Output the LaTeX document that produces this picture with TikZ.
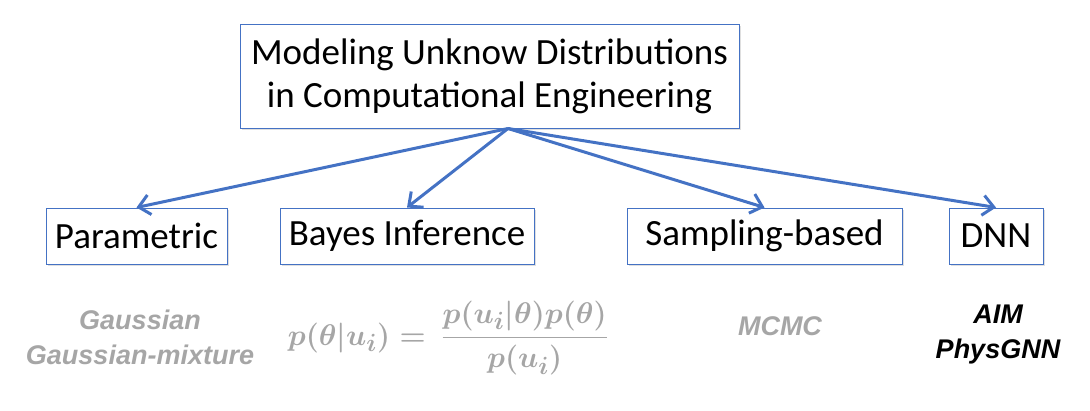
\documentclass[tikz,border=0pt]{standalone}
\usepackage{amsmath,bm,graphicx}
\usepackage{fontspec}
\setmainfont{Carlito}
\newfontfamily\notefont{Liberation Sans}
\usepackage{xcolor}
\usetikzlibrary{calc,arrows.meta,positioning,shadows}

\definecolor{boxblue}{HTML}{4472C4}
\definecolor{notegray}{HTML}{A6A6A6}

\tikzset{
    method/.style={draw=boxblue, line width=1pt, fill=white, minimum height=56pt,
        inner sep=0pt, font=\fontsize{37}{43}\selectfont,
        drop shadow={opacity=0.25, shadow xshift=2pt, shadow yshift=-2pt}},
    branch/.style={-{Straight Barb[length=11pt,width=20pt,line width=3pt]}, draw=boxblue, line width=3pt},
    note/.style={text=notegray, align=center, font=\notefont\fontsize{27}{35}\selectfont\bfseries\itshape}
}

\begin{document}
\begin{tikzpicture}[x=1pt, y=-1pt]
    % Canvas
    \useasboundingbox (0,0) rectangle (1090,410);

    % Root box
    \node[method, minimum width=499pt, minimum height=104pt, align=center] (root) at (489.5,76)
        {Modeling Unknow Distributions\\in Computational Engineering};
    \coordinate (hub) at ($(root.south)+(18.5pt,0)$);

    % Method boxes
    \node[method, minimum width=181pt] (param) at (136.5,236) {Parametric};
    \node[method, minimum width=254pt] (bayes) at (407,236) {Bayes Inference};
    \node[method, minimum width=275pt] (sampl) at (764.5,236) {Sampling-based};
    \node[method, minimum width=94pt]  (dnn)   at (996,236) {DNN};

    % Branches
    \foreach \target in {param,bayes,sampl,dnn}
        \draw[branch] (hub) -- (\target.north);

    % Examples under each method
    \node[note] (gauss) at (140,337) {Gaussian\\Gaussian-mixture};
    \node[note, font=\Huge\boldmath] (bayesrule) at (448,338)
        {\scalebox{1.2}{$\bm{p(\theta|u_i)} =\, \dfrac{\bm{p(u_i|\theta)p(\theta)}}{\bm{p(u_i)}}$}};
    \node[note] (mcmc) at (780,326) {MCMC};
    \node[note, text=black] (nets) at (998,335) {AIM\\PhysGNN};
\end{tikzpicture}
\end{document}
